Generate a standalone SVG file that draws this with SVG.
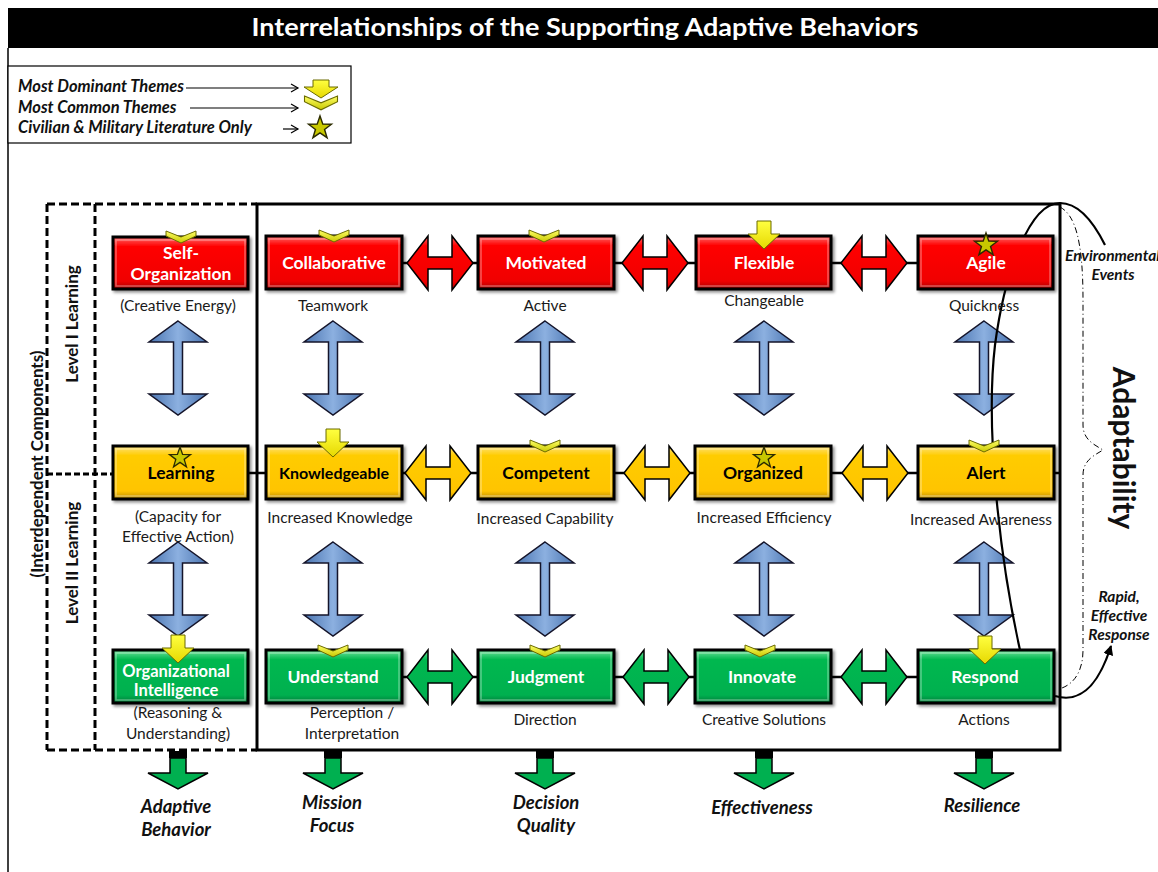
<svg xmlns="http://www.w3.org/2000/svg" width="1158" height="872" viewBox="0 0 1158 872">
<defs>
<style>
text{font-family:Lato,"Liberation Sans",sans-serif}
.t{font-size:17.5px;font-weight:700;text-anchor:middle}
.w{fill:#fff}
.k{fill:#000}
.sub{font-size:15.5px;text-anchor:middle;fill:#1a1a1a}
.out{font-size:18.5px;font-weight:700;font-style:italic;text-anchor:middle;fill:#111}
.leg{font-size:16.5px;font-weight:700;font-style:italic;fill:#111}
.side{font-size:15.5px;font-weight:700;font-style:italic;fill:#111}
.rot{font-size:17px;font-weight:700;text-anchor:middle;fill:#111}
.box{stroke:#000;stroke-width:3}
.hl{fill:none;stroke:#fff;stroke-opacity:.35;stroke-width:1.5}
.dash{fill:none;stroke:#000;stroke-width:3;stroke-dasharray:8 4}
.ha{stroke:#000;stroke-width:1.5;stroke-linejoin:miter}
.va{fill:url(#gb);stroke:#14142a;stroke-width:1.5}
.chev{fill:url(#gc);stroke:#6b6b00;stroke-width:1}
.dom{fill:url(#gd);stroke:#6b6b00;stroke-width:1}
.star{fill:#c8c800;stroke:#2b2b00;stroke-width:1.2}
.ln{stroke:#000;stroke-width:2.5}
</style>
<linearGradient id="gr" x1="0" y1="0" x2="0" y2="1"><stop offset="0" stop-color="#ff6a6a"/><stop offset=".18" stop-color="#ff0000"/><stop offset=".85" stop-color="#f00000"/><stop offset="1" stop-color="#a80000"/></linearGradient>
<linearGradient id="gy" x1="0" y1="0" x2="0" y2="1"><stop offset="0" stop-color="#ffe27a"/><stop offset=".18" stop-color="#ffcc00"/><stop offset=".85" stop-color="#ffc400"/><stop offset="1" stop-color="#b88a00"/></linearGradient>
<linearGradient id="gg" x1="0" y1="0" x2="0" y2="1"><stop offset="0" stop-color="#6fe39a"/><stop offset=".18" stop-color="#00b84f"/><stop offset=".85" stop-color="#00b050"/><stop offset="1" stop-color="#007a36"/></linearGradient>
<linearGradient id="gb" x1="0" y1="0" x2="1" y2="0"><stop offset="0" stop-color="#4a74b0"/><stop offset=".5" stop-color="#8cb0e0"/><stop offset="1" stop-color="#4a74b0"/></linearGradient>
<linearGradient id="gc" x1="0" y1="0" x2="0" y2="1"><stop offset="0" stop-color="#ffff66"/><stop offset="1" stop-color="#c8c800"/></linearGradient>
<linearGradient id="gd" x1="0" y1="0" x2="0" y2="1"><stop offset="0" stop-color="#ffff40"/><stop offset="1" stop-color="#e6d800"/></linearGradient>
<filter id="sh" x="-10%" y="-10%" width="125%" height="135%"><feDropShadow dx="2" dy="2" stdDeviation="1.5" flood-opacity=".45"/></filter>
<polygon id="harr" points="-33,0 -12,-27 -12,-6 12,-6 12,-27 33,0 12,27 12,6 -12,6 -12,27"/>
<polygon id="varr" points="0,-47 29,-26 4.5,-26 4.5,26 29,26 0,47 -29,26 -4.5,26 -4.5,-26 -29,-26"/>
<polygon id="chev" points="-15,0 0,6 15,0 15,5 0,12 -15,5"/>
<polygon id="dom" points="-7,0 7,0 7,13 16,13 0,28 -16,13 -7,13"/>
<polygon id="star" points="0,-10 2.35,-3.24 9.51,-3.09 3.8,1.24 5.88,8.09 0,4 -5.88,8.09 -3.8,1.24 -9.51,-3.09 -2.35,-3.24"/>
<g id="barr"><rect x="-9" y="0" width="18" height="7" fill="#000"/><polygon points="-8,7 8,7 8,22 30,22 0,38 -30,22 -8,22" fill="#00b050" stroke="#000" stroke-width="1.5"/></g>
<marker id="open" markerWidth="10" markerHeight="10" refX="8" refY="5" orient="auto" markerUnits="userSpaceOnUse"><path d="M1,1 L8,5 L1,9" fill="none" stroke="#000" stroke-width="1.2"/></marker>
<marker id="solid" markerWidth="12" markerHeight="12" refX="9" refY="5" orient="auto" markerUnits="userSpaceOnUse"><path d="M0,0 L10,5 L0,10 Z" fill="#000"/></marker>
</defs>

<rect width="1158" height="872" fill="#fff"/>
<!-- title -->
<g id="title">
<rect x="8" y="8" width="1150" height="40" fill="#000"/>
<text x="585" y="36" font-size="24" font-weight="700" fill="#fff" text-anchor="middle" textLength="667" lengthAdjust="spacingAndGlyphs">Interrelationships of the Supporting Adaptive Behaviors</text>
<line x1="8" y1="48" x2="8" y2="872" stroke="#000" stroke-width="1.5"/>
</g>

<!-- legend -->
<g id="legend">
<rect x="8" y="66" width="343" height="77" fill="#fff" stroke="#000" stroke-width="1.2"/>
<text class="leg" x="18" y="92">Most Dominant Themes</text>
<text class="leg" x="18" y="113">Most Common Themes</text>
<text class="leg" x="18" y="133">Civilian &amp; Military Literature Only</text>
<line x1="186" y1="88" x2="298" y2="88" stroke="#000" stroke-width="1.2" marker-end="url(#open)"/>
<line x1="190" y1="108" x2="298" y2="108" stroke="#000" stroke-width="1.2" marker-end="url(#open)"/>
<line x1="283" y1="129" x2="298" y2="129" stroke="#000" stroke-width="1.2" marker-end="url(#open)"/>
<polygon class="dom" points="313,80 329,80 329,87 338,87 321,98 304,87 313,87"/>
<use href="#chev" class="chev" transform="translate(321,96) scale(1.1,1.15)"/>
<use href="#star" class="star" transform="translate(320,128) scale(1.2)"/>
</g>

<!-- frames -->
<g id="frames">
<line class="dash" x1="47" y1="204" x2="257" y2="204"/>
<line class="dash" x1="47" y1="750" x2="257" y2="750"/>
<line class="dash" x1="47" y1="204" x2="47" y2="750"/>
<line class="dash" x1="95" y1="204" x2="95" y2="750"/>
<rect x="257" y="204" width="803" height="546" fill="none" stroke="#000" stroke-width="3"/>
<line x1="47" y1="474" x2="113" y2="474" stroke="#000" stroke-width="3" stroke-dasharray="6 3"/>
<text class="rot" transform="translate(78,324) rotate(-90)">Level I Learning</text>
<text class="rot" transform="translate(78,563) rotate(-90)">Level II Learning</text>
<text class="rot" font-size="19" transform="translate(43,464) rotate(-90)">(Interdependent Components)</text>
</g>

<!-- connectors -->
<g id="connectors">
<line class="ln" x1="402" y1="263" x2="918" y2="263"/>
<line class="ln" x1="248" y1="473" x2="1060" y2="473"/>
<line class="ln" x1="402" y1="677" x2="918" y2="677"/>
<use href="#harr" class="ha" fill="url(#gr)" x="440" y="263"/>
<use href="#harr" class="ha" fill="url(#gr)" x="655" y="263"/>
<use href="#harr" class="ha" fill="url(#gr)" x="874" y="263"/>
<use href="#harr" class="ha" fill="url(#gy)" x="438" y="473"/>
<use href="#harr" class="ha" fill="url(#gy)" x="657" y="473"/>
<use href="#harr" class="ha" fill="url(#gy)" x="875" y="473"/>
<use href="#harr" class="ha" fill="url(#gg)" x="440" y="677"/>
<use href="#harr" class="ha" fill="url(#gg)" x="656" y="677"/>
<use href="#harr" class="ha" fill="url(#gg)" x="874" y="677"/>
<use href="#varr" class="va" x="178" y="368"/>
<use href="#varr" class="va" x="333" y="368"/>
<use href="#varr" class="va" x="545" y="368"/>
<use href="#varr" class="va" x="764" y="368"/>
<use href="#varr" class="va" x="984" y="368"/>
<use href="#varr" class="va" x="178" y="589"/>
<use href="#varr" class="va" x="333" y="589"/>
<use href="#varr" class="va" x="545" y="589"/>
<use href="#varr" class="va" x="764" y="589"/>
<use href="#varr" class="va" x="984" y="589"/>
<use href="#barr" x="178" y="751"/>
<use href="#barr" x="333" y="751"/>
<use href="#barr" x="545" y="751"/>
<use href="#barr" x="764" y="751"/>
<use href="#barr" x="984" y="751"/>
<path d="M1020,650 C1000,560 985,430 995,345 C1005,270 1030,203 1060,203 C1080,203 1095,225 1105,245" fill="none" stroke="#000" stroke-width="2.2"/>
<path d="M1060,207 C1075,215 1083,240 1083,300 L1083,425 C1083,440 1095,445 1103,450 C1095,455 1083,460 1083,475 L1083,650 C1083,670 1075,683 1062,688" fill="none" stroke="#000" stroke-width="1" stroke-dasharray="6 3 1 3"/>
<path d="M1055,696 C1078,703 1097,690 1111,646" fill="none" stroke="#000" stroke-width="2.2" marker-end="url(#solid)"/>
</g>

<!-- Row 1 -->
<g id="n-self-organization">
<rect class="box" x="113" y="237" width="135" height="52" fill="url(#gr)" filter="url(#sh)"/><rect class="hl" x="116" y="240" width="129" height="46"/>
<text class="t w" x="181" y="259">Self-</text><text class="t w" x="181" y="280">Organization</text>
<use href="#chev" class="chev" x="181" y="231"/>
<text class="sub" x="178" y="311">(Creative Energy)</text>
</g>
<g id="n-collaborative">
<rect class="box" x="266" y="236" width="136" height="53" fill="url(#gr)" filter="url(#sh)"/><rect class="hl" x="269" y="239" width="130" height="47"/>
<text class="t w" x="334" y="269">Collaborative</text>
<use href="#chev" class="chev" x="334" y="230"/>
<text class="sub" x="333" y="311">Teamwork</text>
</g>
<g id="n-motivated">
<rect class="box" x="478" y="236" width="136" height="53" fill="url(#gr)" filter="url(#sh)"/><rect class="hl" x="481" y="239" width="130" height="47"/>
<text class="t w" x="546" y="269">Motivated</text>
<use href="#chev" class="chev" x="544" y="230"/>
<text class="sub" x="545" y="311">Active</text>
</g>
<g id="n-flexible">
<rect class="box" x="696" y="236" width="135" height="53" fill="url(#gr)" filter="url(#sh)"/><rect class="hl" x="699" y="239" width="129" height="47"/>
<text class="t w" x="764" y="269">Flexible</text>
<use href="#dom" class="dom" x="764" y="221"/>
<text class="sub" x="764" y="306">Changeable</text>
</g>
<g id="n-agile">
<rect class="box" x="918" y="236" width="135" height="53" fill="url(#gr)" filter="url(#sh)"/><rect class="hl" x="921" y="239" width="129" height="47"/>
<text class="t w" x="986" y="269">Agile</text>
<use href="#star" class="star" transform="translate(986,245) scale(1.2)"/>
<text class="sub" x="984" y="311">Quickness</text>
</g>

<!-- Row 2 -->
<g id="n-learning">
<rect class="box" x="113" y="446" width="135" height="53" fill="url(#gy)" filter="url(#sh)"/><rect class="hl" x="116" y="449" width="129" height="47"/>
<text class="t k" x="181" y="479">Learning</text>
<use href="#star" class="star" transform="translate(180,458) scale(1.1)"/>
<text class="sub" x="178" y="522">(Capacity for</text><text class="sub" x="178" y="542">Effective Action)</text>
</g>
<g id="n-knowledgeable">
<rect class="box" x="266" y="446" width="136" height="53" fill="url(#gy)" filter="url(#sh)"/><rect class="hl" x="269" y="449" width="130" height="47"/>
<text class="t k" style="font-size:16px" x="334" y="479">Knowledgeable</text>
<use href="#dom" class="dom" x="333" y="429"/>
<text class="sub" x="340" y="523">Increased Knowledge</text>
</g>
<g id="n-competent">
<rect class="box" x="478" y="446" width="136" height="53" fill="url(#gy)" filter="url(#sh)"/><rect class="hl" x="481" y="449" width="130" height="47"/>
<text class="t k" x="546" y="479">Competent</text>
<use href="#chev" class="chev" x="545" y="440"/>
<text class="sub" x="545" y="524">Increased Capability</text>
</g>
<g id="n-organized">
<rect class="box" x="695" y="446" width="136" height="53" fill="url(#gy)" filter="url(#sh)"/><rect class="hl" x="698" y="449" width="130" height="47"/>
<text class="t k" x="763" y="479">Organized</text>
<use href="#star" class="star" transform="translate(764,458) scale(1.1)"/>
<text class="sub" x="764" y="523">Increased Efficiency</text>
</g>
<g id="n-alert">
<rect class="box" x="918" y="446" width="136" height="53" fill="url(#gy)" filter="url(#sh)"/><rect class="hl" x="921" y="449" width="130" height="47"/>
<text class="t k" x="986" y="479">Alert</text>
<use href="#chev" class="chev" x="984" y="440"/>
<text class="sub" x="981" y="525">Increased Awareness</text>
</g>

<!-- Row 3 -->
<g id="n-organizational-intelligence">
<rect class="box" x="113" y="650" width="135" height="53" fill="url(#gg)" filter="url(#sh)"/><rect class="hl" x="116" y="653" width="129" height="47"/>
<text class="t w" style="font-size:16.5px" x="176" y="677">Organizational</text><text class="t w" style="font-size:16.5px" x="176" y="696">Intelligence</text>
<use href="#dom" class="dom" x="178" y="635"/>
<text class="sub" x="178" y="718">(Reasoning &amp;</text><text class="sub" x="178" y="739">Understanding)</text>
</g>
<g id="n-understand">
<rect class="box" x="266" y="650" width="136" height="53" fill="url(#gg)" filter="url(#sh)"/><rect class="hl" x="269" y="653" width="130" height="47"/>
<text class="t w" x="333" y="683">Understand</text>
<use href="#chev" class="chev" x="333" y="645"/>
<text class="sub" x="352" y="718">Perception /</text><text class="sub" x="352" y="739">Interpretation</text>
</g>
<g id="n-judgment">
<rect class="box" x="478" y="650" width="136" height="53" fill="url(#gg)" filter="url(#sh)"/><rect class="hl" x="481" y="653" width="130" height="47"/>
<text class="t w" x="546" y="683">Judgment</text>
<use href="#chev" class="chev" x="545" y="645"/>
<text class="sub" x="545" y="725">Direction</text>
</g>
<g id="n-innovate">
<rect class="box" x="695" y="650" width="136" height="53" fill="url(#gg)" filter="url(#sh)"/><rect class="hl" x="698" y="653" width="130" height="47"/>
<text class="t w" x="762" y="683">Innovate</text>
<use href="#chev" class="chev" x="760" y="645"/>
<text class="sub" x="764" y="725">Creative Solutions</text>
</g>
<g id="n-respond">
<rect class="box" x="918" y="650" width="136" height="53" fill="url(#gg)" filter="url(#sh)"/><rect class="hl" x="921" y="653" width="130" height="47"/>
<text class="t w" x="985" y="683">Respond</text>
<use href="#dom" class="dom" x="985" y="636"/>
<text class="sub" x="984" y="725">Actions</text>
</g>

<!-- outcomes -->
<g id="outcomes">
<text class="out" x="176" y="813">Adaptive</text><text class="out" x="176" y="836">Behavior</text>
<text class="out" x="332" y="809">Mission</text><text class="out" x="332" y="832">Focus</text>
<text class="out" x="546" y="809">Decision</text><text class="out" x="546" y="832">Quality</text>
<text class="out" x="762" y="814">Effectiveness</text>
<text class="out" x="982" y="812">Resilience</text>
</g>

<!-- right side -->
<g id="adaptability">
<text font-size="30" font-weight="700" fill="#111" text-anchor="middle" transform="translate(1113,448) rotate(90)">Adaptability</text>
<text class="side" x="1065" y="261">Environmental</text>
<text class="side" x="1113" y="280" text-anchor="middle">Events</text>
<text class="side" x="1119" y="602" text-anchor="middle">Rapid,</text>
<text class="side" x="1119" y="621" text-anchor="middle">Effective</text>
<text class="side" x="1119" y="640" text-anchor="middle">Response</text>
</g>
</svg>
